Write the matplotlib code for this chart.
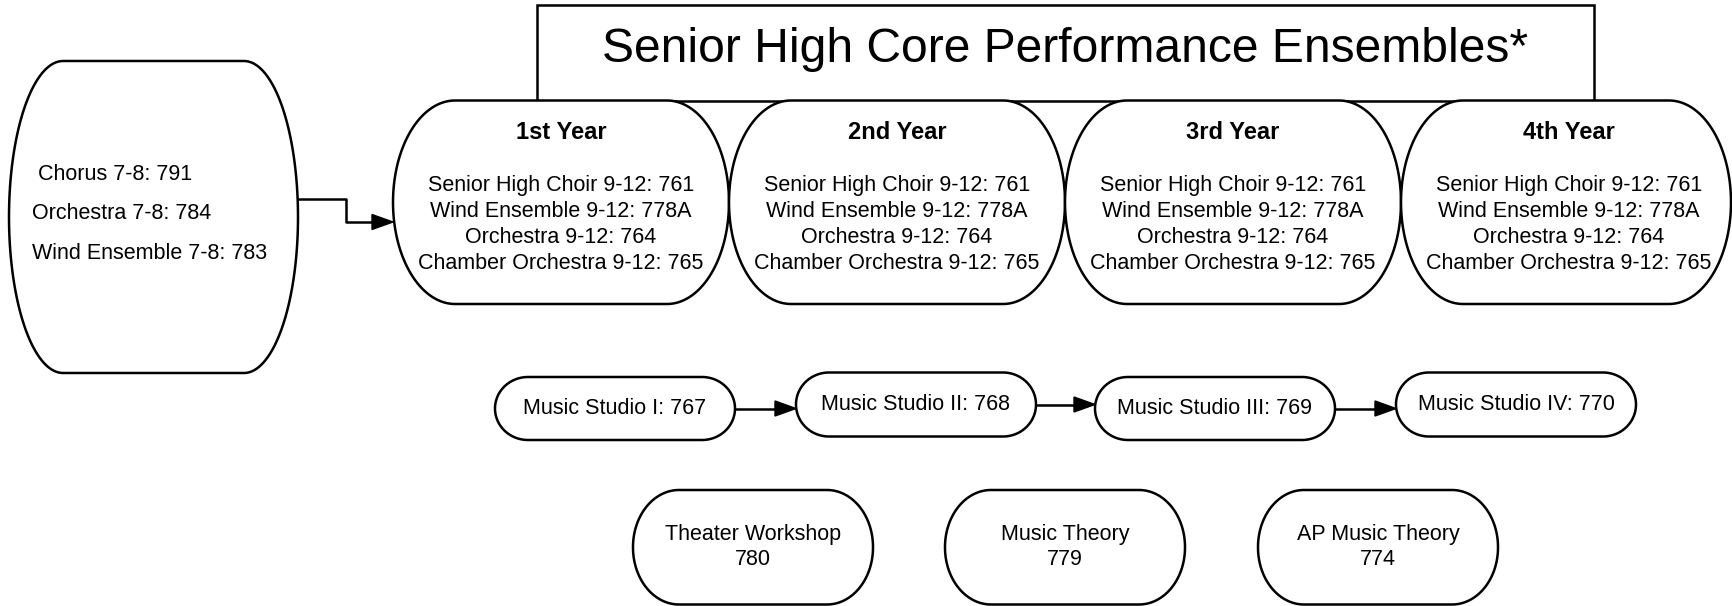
import numpy as np
import matplotlib.pyplot as plt
from matplotlib.patches import Polygon, Rectangle

plt.rcParams['font.family'] = ['Liberation Sans', 'DejaVu Sans']

# 文本内容
title = "Senior High Core Performance Ensembles*"
junior_lines = [" Chorus 7-8: 791", "Orchestra 7-8: 784", "Wind Ensemble 7-8: 783"]
years = ["1st Year", "2nd Year", "3rd Year", "4th Year"]
ensembles = ["Senior High Choir 9-12: 761", "Wind Ensemble 9-12: 778A",
             "Orchestra 9-12: 764", "Chamber Orchestra 9-12: 765"]
studios = ["Music Studio I: 767", "Music Studio II: 768",
           "Music Studio III: 769", "Music Studio IV: 770"]
electives = ["Theater Workshop\n780", "Music Theory\n779", "AP Music Theory\n774"]

W, H = 1733, 606
FS = 15.5
LW = 1.8
DY = 2.5  # 文字下移


def rbox(ax, x0, y0, x1, y1, rx, ry, n=40):
    # 椭圆圆角矩形
    t = np.linspace(0, np.pi / 2, n)
    pts = []
    pts += list(zip(x1 - rx + rx * np.sin(t), y0 + ry - ry * np.cos(t)))
    pts += list(zip(x1 - rx + rx * np.cos(t), y1 - ry + ry * np.sin(t)))
    pts += list(zip(x0 + rx - rx * np.sin(t), y1 - ry + ry * np.cos(t)))
    pts += list(zip(x0 + rx - rx * np.cos(t), y0 + ry - ry * np.sin(t)))
    ax.add_patch(Polygon(pts, closed=True, fc='white', ec='black', lw=LW, zorder=2))


def arrow(ax, pts):
    xs, ys = zip(*pts)
    ax.plot(xs[:-1] + (xs[-1] - 20,), ys, color='black', lw=LW, zorder=1)
    ax.add_patch(Polygon([(xs[-1], ys[-1]), (xs[-1] - 21, ys[-1] - 7.5),
                          (xs[-1] - 21, ys[-1] + 7.5)], closed=True,
                         fc='black', ec='black', lw=1, zorder=3))


fig = plt.figure(figsize=(W / 100, H / 100), dpi=100)
ax = fig.add_axes([0, 0, 1, 1])
ax.set_xlim(0, W)
ax.set_ylim(H, 0)
ax.axis('off')

# 标题框
ax.add_patch(Rectangle((537, 4.5), 1057, 96, fc='white', ec='black', lw=LW, zorder=2))
ax.text(1065.5, 47 + DY, title, ha='center', va='center', fontsize=34.6, zorder=4)

# 初中合奏框
rbox(ax, 9, 61, 298, 373, 54, 156)
for yy, s in zip([172, 211, 251], junior_lines):
    ax.text(32, yy + DY, s, ha='left', va='center', fontsize=FS, zorder=4)
arrow(ax, [(298, 199), (346, 199), (346, 222), (393, 222)])

# 四个年级
x_starts = [393, 729, 1065, 1401]
for i, (xs, yr) in enumerate(zip(x_starts, years)):
    xe = 1731 if i == 3 else xs + 336
    rbox(ax, xs, 100.5, xe, 304, 62, 101.75)
    cx = (xs + xs + 336) / 2
    ax.text(cx, 130 + DY, yr, ha='center', va='center', fontsize=17,
            fontweight='bold', zorder=4)
    for yy, s in zip([183.5, 209, 235, 261], ensembles):
        ax.text(cx, yy + DY, s, ha='center', va='center', fontsize=FS, zorder=4)

# Music Studio 行
s_x = [495, 796, 1095, 1396]
s_y = [(377, 440), (372.5, 436.5), (377, 440), (372.5, 436.5)]
for i, (xs, (y0, y1), s) in enumerate(zip(s_x, s_y, studios)):
    rbox(ax, xs, y0, xs + 240, y1, 33, (y1 - y0) / 2)
    ax.text(xs + 120, (y0 + y1) / 2 - 3 + DY, s, ha='center', va='center',
            fontsize=FS, zorder=4)
    if i < 3:
        ym = (y0 + y1) / 2
        arrow(ax, [(xs + 240, ym), (s_x[i + 1], ym)])

# 选修课
e_x = [633, 945, 1258]
for xs, s in zip(e_x, electives):
    rbox(ax, xs, 490, xs + 240, 604.5, 46, 57)
    ax.text(xs + 120, 545.5 + 1.5, s, ha='center', va='center', fontsize=FS,
            linespacing=1.2, zorder=4)

plt.savefig('out.png', dpi=100)
